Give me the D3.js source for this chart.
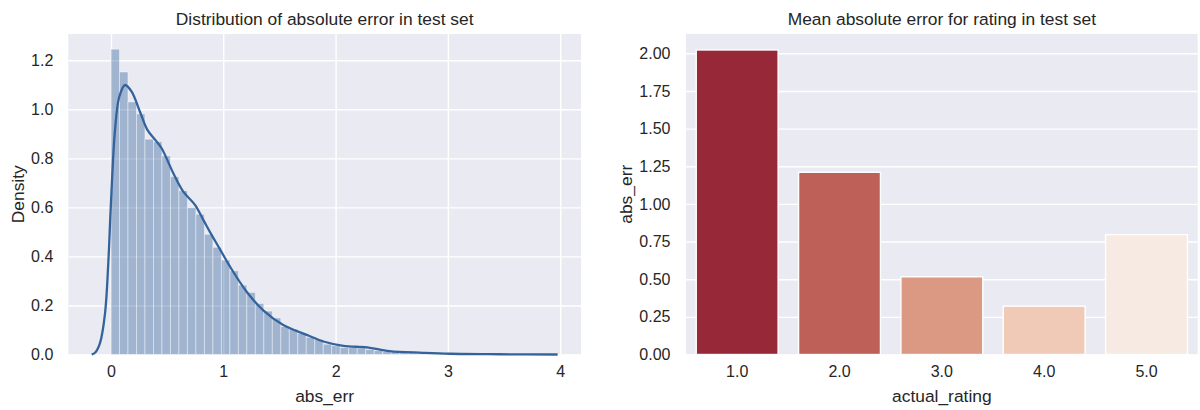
<!DOCTYPE html>
<html>
<head>
<meta charset="utf-8">
<script src="https://cdn.jsdelivr.net/npm/d3@7"></script>
<style>
  html, body { margin: 0; padding: 0; background: #ffffff; }
  svg { display: block; }
  text { font-family: "Liberation Sans", Arial, sans-serif; fill: #262626; }
</style>
</head>
<body>
<svg id="chart" width="1200" height="410"></svg>
<script>
// ---- Left panel: histogram + KDE of absolute error ----
const histStart = 0;
const histEnd = 3.78;
const histDensity = [
  1.245, 1.152, 1.030, 0.981, 0.878, 0.868, 0.810, 0.725, 0.668, 0.599,
  0.572, 0.490, 0.437, 0.385, 0.341, 0.283, 0.253, 0.208, 0.177, 0.149,
  0.114, 0.104, 0.086, 0.070, 0.062, 0.042, 0.036, 0.028, 0.028, 0.025,
  0.020, 0.016, 0.013, 0.011, 0.009, 0.007, 0.006, 0.005, 0.004, 0.003,
  0.003, 0.002, 0.002, 0.001, 0.001, 0.001, 0.001, 0.0005, 0.0005, 0.0005
];
const kdeX = [-0.172, -0.14, -0.098, -0.053, -0.024, 0.0, 0.036, 0.074, 0.125, 0.184,
  0.258, 0.324, 0.40, 0.451, 0.555, 0.644, 0.748, 0.822, 0.897, 0.971,
  1.06, 1.208, 1.356, 1.534, 1.743, 1.90, 2.07, 2.28, 2.48, 2.78,
  3.02, 3.46, 3.977];
const kdeY = [0.0, 0.008, 0.046, 0.168, 0.372, 0.62, 0.916, 1.051, 1.099, 1.072,
  0.990, 0.916, 0.872, 0.841, 0.739, 0.664, 0.610, 0.549, 0.487, 0.429,
  0.358, 0.256, 0.180, 0.120, 0.080, 0.052, 0.035, 0.029, 0.014, 0.007,
  0.003, 0.001, 0.0];
const leftXTicks = [0, 1, 2, 3, 4];
const leftYTicks = [0.0, 0.2, 0.4, 0.6, 0.8, 1.0, 1.2];

// ---- Right panel: mean absolute error per rating ----
const ratings = ["1.0", "2.0", "3.0", "4.0", "5.0"];
const meanAbsErr = [2.022, 1.210, 0.516, 0.321, 0.796];
const barColors = ["#972838", "#be6058", "#db9882", "#f0cab6", "#f7eae2"];
const rightYTicks = [0.00, 0.25, 0.50, 0.75, 1.00, 1.25, 1.50, 1.75, 2.00];

const svg = d3.select("#chart");
const bg = "#eaeaf2";
const lineColor = "#34639b";
const tickSize = 16, labelSize = 17.4;

function panel(x0, x1, y0, y1) {
  return { x0, x1, y0, y1 };
}
const L = panel(68.3, 581, 34, 354.5);
const R = panel(686, 1197.7, 34, 354.5);

// ---------- left ----------
const xL = d3.scaleLinear().domain([-0.380, 4.185]).range([L.x0, L.x1]);
const yL = d3.scaleLinear().domain([0, 1.307]).range([L.y1, L.y0]);

const gL = svg.append("g");
gL.append("rect").attr("x", L.x0).attr("y", L.y0)
  .attr("width", L.x1 - L.x0).attr("height", L.y1 - L.y0).attr("fill", bg);

// grid
gL.append("g").attr("transform", `translate(0,${L.y1})`)
  .call(d3.axisBottom(xL).tickValues(leftXTicks).tickSize(-(L.y1 - L.y0)).tickFormat(""))
  .call(g => g.select(".domain").remove())
  .call(g => g.selectAll("line").attr("stroke", "#fff").attr("stroke-width", 1.4));
gL.append("g").attr("transform", `translate(${L.x0},0)`)
  .call(d3.axisLeft(yL).tickValues(leftYTicks).tickSize(-(L.x1 - L.x0)).tickFormat(""))
  .call(g => g.select(".domain").remove())
  .call(g => g.selectAll("line").attr("stroke", "#fff").attr("stroke-width", 1.4));

// histogram bars
const binW = (histEnd - histStart) / histDensity.length;
gL.append("g").selectAll("rect").data(histDensity).join("rect")
  .attr("x", (d, i) => xL(histStart + i * binW))
  .attr("width", (d, i) => xL(histStart + (i + 1) * binW) - xL(histStart + i * binW))
  .attr("y", d => yL(d))
  .attr("height", d => yL(0) - yL(d))
  .attr("fill", lineColor).attr("fill-opacity", 0.4)
  .attr("stroke", "#fff").attr("stroke-opacity", 0.45).attr("stroke-width", 0.9);

// KDE curve
const kdePts = kdeX.map((x, i) => [x, kdeY[i]]);
gL.append("path").datum(kdePts)
  .attr("d", d3.line().x(d => xL(d[0])).y(d => yL(d[1])).curve(d3.curveCatmullRom.alpha(0.5)))
  .attr("fill", "none").attr("stroke", lineColor).attr("stroke-width", 2.3);

// tick labels
gL.append("g").attr("transform", `translate(0,${L.y1})`)
  .call(d3.axisBottom(xL).tickValues(leftXTicks).tickSize(0).tickPadding(11.5).tickFormat(d3.format("d")))
  .call(g => g.select(".domain").remove())
  .call(g => g.selectAll("text").attr("font-size", tickSize).style("fill", "#262626"));
gL.append("g").attr("transform", `translate(${L.x0},0)`)
  .call(d3.axisLeft(yL).tickValues(leftYTicks).tickSize(0).tickPadding(15).tickFormat(d3.format(".1f")))
  .call(g => g.select(".domain").remove())
  .call(g => g.selectAll("text").attr("font-size", tickSize).style("fill", "#262626"));

gL.append("text").attr("x", (L.x0 + L.x1) / 2).attr("y", 25)
  .attr("text-anchor", "middle").attr("font-size", labelSize)
  .text("Distribution of absolute error in test set");
gL.append("text").attr("x", (L.x0 + L.x1) / 2).attr("y", 402)
  .attr("text-anchor", "middle").attr("font-size", labelSize).text("abs_err");
gL.append("text").attr("transform", `translate(24,${(L.y0 + L.y1) / 2}) rotate(-90)`)
  .attr("text-anchor", "middle").attr("font-size", labelSize).text("Density");

// ---------- right ----------
const xR = d3.scaleBand().domain(ratings).range([R.x0, R.x1]).paddingInner(0.2).paddingOuter(0.1);
const yR = d3.scaleLinear().domain([0, 2.128]).range([R.y1, R.y0]);

const gR = svg.append("g");
gR.append("rect").attr("x", R.x0).attr("y", R.y0)
  .attr("width", R.x1 - R.x0).attr("height", R.y1 - R.y0).attr("fill", bg);
gR.append("g").attr("transform", `translate(${R.x0},0)`)
  .call(d3.axisLeft(yR).tickValues(rightYTicks).tickSize(-(R.x1 - R.x0)).tickFormat(""))
  .call(g => g.select(".domain").remove())
  .call(g => g.selectAll("line").attr("stroke", "#fff").attr("stroke-width", 1.4));

gR.append("g").selectAll("rect").data(ratings).join("rect")
  .attr("x", d => xR(d))
  .attr("width", xR.bandwidth())
  .attr("y", (d, i) => yR(meanAbsErr[i]))
  .attr("height", (d, i) => yR(0) - yR(meanAbsErr[i]))
  .attr("fill", (d, i) => barColors[i])
  .attr("stroke", "#fff").attr("stroke-width", 1.4);

gR.append("g").attr("transform", `translate(0,${R.y1})`)
  .call(d3.axisBottom(xR).tickSize(0).tickPadding(11.5))
  .call(g => g.select(".domain").remove())
  .call(g => g.selectAll("text").attr("font-size", tickSize).style("fill", "#262626"));
gR.append("g").attr("transform", `translate(${R.x0},0)`)
  .call(d3.axisLeft(yR).tickValues(rightYTicks).tickSize(0).tickPadding(15.5).tickFormat(d3.format(".2f")))
  .call(g => g.select(".domain").remove())
  .call(g => g.selectAll("text").attr("font-size", tickSize).style("fill", "#262626"));

gR.append("text").attr("x", (R.x0 + R.x1) / 2).attr("y", 25)
  .attr("text-anchor", "middle").attr("font-size", labelSize)
  .text("Mean absolute error for rating in test set");
gR.append("text").attr("x", (R.x0 + R.x1) / 2).attr("y", 402)
  .attr("text-anchor", "middle").attr("font-size", labelSize).text("actual_rating");
gR.append("text").attr("transform", `translate(632,${(R.y0 + R.y1) / 2}) rotate(-90)`)
  .attr("text-anchor", "middle").attr("font-size", labelSize).text("abs_err");
</script>
</body>
</html>
